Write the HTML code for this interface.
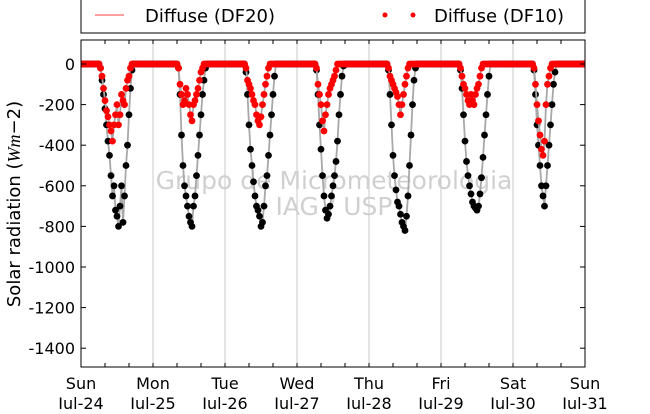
<!DOCTYPE html>
<html><head><meta charset="utf-8"><style>
body{margin:0;background:#fff;width:650px;height:409px;overflow:hidden;font-family:"Liberation Sans",sans-serif}
svg text{font-family:"DejaVu Sans","Liberation Sans",sans-serif}
</style></head><body>
<svg id="chart" width="650" height="409" xmlns="http://www.w3.org/2000/svg"></svg>
<script>
const dayLabels=["Sun","Mon","Tue","Wed","Thu","Fri","Sat","Sun"];
const dateLabels=["Jul-24","Jul-25","Jul-26","Jul-27","Jul-28","Jul-29","Jul-30","Jul-31"];
const yTicks=[0,-200,-400,-600,-800,-1000,-1200,-1400];
// half-hourly values from 6:00 to 17:30 local, per day (0 elsewhere)
const globalSun=[0,-20,-80,-150,-220,-300,-380,-450,-550,-650,-600,-720,-750,-800,-700,-600,-780,-650,-500,-400,-250,-120,-30,0];
const globalMon=[0,0,0,0,0,-20,-150,-350,-500,-600,-650,-700,-750,-780,-800,-700,-650,-550,-450,-350,-250,-150,-80,-20];
const globalTue=[0,0,-40,-150,-300,-420,-500,-580,-650,-700,-720,-750,-800,-780,-700,-600,-550,-450,-350,-250,-150,-60,0,0];
const globalWed=[0,-30,-150,-300,-420,-550,-650,-720,-760,-740,-700,-650,-600,-550,-480,-380,-250,-150,-60,-10,0,0,0,0];
const globalThu=[0,-30,-150,-300,-450,-550,-620,-680,-700,-740,-780,-800,-820,-750,-650,-500,-350,-200,-80,-20,0,0,0,0];
const globalFri=[0,-30,-120,-250,-380,-480,-550,-600,-640,-680,-700,-710,-720,-700,-640,-560,-460,-350,-250,-150,-60,0,0,0];
const globalSat=[0,0,-30,-150,-300,-400,-500,-600,-650,-700,-600,-500,-400,-300,-200,-100,-40,0,0,0,0,0,0,0];
const diffSun=[0,-20,-60,-120,-180,-230,-260,-300,-330,-380,-300,-250,-200,-300,-250,-150,-180,-200,-120,-80,-60,-20,0,0];
const diffMon=[0,0,0,0,0,-20,-100,-150,-200,-180,-120,-150,-200,-250,-280,-200,-180,-150,-120,-80,-40,-20,0,0];
const diffTue=[0,0,-20,-80,-100,-120,-150,-180,-200,-250,-280,-300,-260,-200,-150,-100,-60,-20,0,0,0,0,0,0];
const diffWed=[0,-20,-100,-150,-200,-280,-330,-250,-200,-150,-120,-100,-80,-60,-30,0,0,0,0,0,0,0,0,0];
const diffThu=[0,-20,-60,-80,-100,-120,-140,-160,-200,-250,-200,-150,-100,-60,-20,0,0,0,0,0,0,0,0,0];
const diffFri=[0,-20,-60,-100,-120,-150,-180,-200,-150,-180,-200,-150,-120,-100,-60,-20,0,0,0,0,0,0,0,0];
const diffSat=[0,0,-20,-100,-200,-280,-350,-420,-450,-380,-200,-100,-60,-20,0,0,0,0,0,0,0,0,0,0];
const globalDays=[globalSun,globalMon,globalTue,globalWed,globalThu,globalFri,globalSat];
const diffDays=[diffSun,diffMon,diffTue,diffWed,diffThu,diffFri,diffSat];

const NS="http://www.w3.org/2000/svg",svg=document.getElementById('chart');
const L=81,R=585,T=40,B=367;
const x=h=>L+h/(7*24)*(R-L);
const y=v=>64+(-v)/200*40.6;
function mk(tag,a,parent){const e=document.createElementNS(NS,tag);for(const k in a)e.setAttribute(k,a[k]);(parent||svg).appendChild(e);return e;}
function series(days){const pts=[];for(let d=0;d<7;d++){for(let i=0;i<48;i++){const h=i/2;let v=0;if(h>=6&&h<18)v=days[d][i-12];pts.push([d*24+h,v]);}}pts.push([168,0]);return pts;}

for(let d=1;d<7;d++){const g=mk('line',{x1:x(d*24),x2:x(d*24),y1:T,y2:B,stroke:'#c8c8c8','stroke-width':1});
}
for(let k=0;k<=21;k++){const xx=x(k*8);
mk('line',{x1:xx,x2:xx,y1:T,y2:T+4,stroke:'#000'});mk('line',{x1:xx,x2:xx,y1:B,y2:B-4,stroke:'#000'});}
const w1=mk('text',{x:334,y:189,'font-size':25,fill:'#d0d0d0','text-anchor':'middle'});w1.textContent="Grupo de Micrometeorologia";

const w2=mk('text',{x:334,y:215,'font-size':25,fill:'#d0d0d0','text-anchor':'middle'});w2.textContent="IAG / USP";


const clip=mk('clipPath',{id:'pc'});mk('rect',{x:L,y:T,width:R-L,height:B-T},clip);
const plot=mk('g',{'clip-path':'url(#pc)'});
function draw(days,color,name){
  const pts=series(days);
  const ln=mk('polyline',{points:pts.map(p=>x(p[0])+','+y(p[1])).join(' '),fill:'none',stroke:'#a8a8a8','stroke-width':1.8},plot);
  
  for(const p of pts){const c=mk('circle',{cx:x(p[0]),cy:y(p[1]),r:3.4,fill:color},plot);
    }
}
draw(globalDays,'#000','global-radiation');
draw(diffDays,'#f00','diffuse-radiation');
const fr=mk('rect',{x:L,y:T,width:R-L,height:B-T,fill:'none',stroke:'#000','stroke-width':1});

yTicks.forEach(v=>{mk('line',{x1:L,x2:L+5,y1:y(v),y2:y(v),stroke:'#000'});mk('line',{x1:R,x2:R-5,y1:y(v),y2:y(v),stroke:'#000'});
const t=mk('text',{x:75,y:y(v)+6,'font-size':16,'text-anchor':'end'});t.textContent=v;
});
dayLabels.forEach((s,i)=>{const xx=x(i*24);
const a=mk('text',{x:xx,y:389,'font-size':16,'text-anchor':'middle'});a.textContent=s;

const b=mk('text',{x:xx,y:409,'font-size':16,'text-anchor':'middle'});b.textContent=dateLabels[i];
});
const yt=mk('text',{x:20,y:204,'font-size':18,'text-anchor':'middle',transform:'rotate(-90 20 204)'});
yt.innerHTML='Solar radiation (<tspan font-style="italic" font-family="Liberation Serif">Wm</tspan>−2)';

const lg=mk('g',{});
mk('rect',{x:81,y:-5,width:504,height:38,fill:'#fff',stroke:'#000'},lg);
mk('line',{x1:95,x2:124,y1:15,y2:15,stroke:'#ff8080','stroke-width':1.5},lg);
const l1=mk('text',{x:145,y:22,'font-size':18},lg);l1.textContent='Diffuse (DF20)';

mk('circle',{cx:385,cy:15,r:2.5,fill:'#f00'},lg);mk('circle',{cx:413,cy:15,r:2.5,fill:'#f00'},lg);
const l2=mk('text',{x:434,y:22,'font-size':18},lg);l2.textContent='Diffuse (DF10)';

</script>
</body></html>
